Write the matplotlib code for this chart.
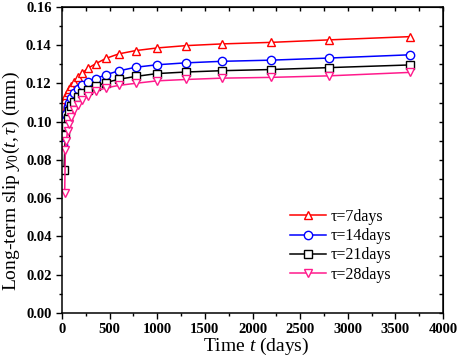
import matplotlib
matplotlib.use('Agg')
import matplotlib.pyplot as plt
from matplotlib.ticker import MultipleLocator

plt.rcParams['font.family'] = ['Liberation Serif', 'DejaVu Serif']
plt.rcParams['mathtext.fontset'] = 'custom'
plt.rcParams['mathtext.rm'] = 'Liberation Serif'
plt.rcParams['mathtext.it'] = 'Liberation Serif:italic'

# time grid (days) after the loading age
t_after = [35, 45, 58, 75, 97, 126, 163, 211, 274, 355, 460, 596, 773,
           1000, 1300, 1680, 2190, 2800, 3650]

t7 = [7] + t_after
y7 = [0.101, 0.1120, 0.1138, 0.1158, 0.1172, 0.1188, 0.1208, 0.1232, 0.1255,
      0.1280, 0.1304, 0.1331, 0.1355, 0.1372, 0.1386, 0.1398, 0.1407, 0.1415,
      0.1428, 0.1445]

t14 = [14] + t_after
y14 = [0.088, 0.1005, 0.1040, 0.1075, 0.1100, 0.1125, 0.1150, 0.1172, 0.1190,
       0.1207, 0.1225, 0.1246, 0.1266, 0.1285, 0.1298, 0.1308, 0.1316, 0.1322,
       0.1333, 0.1350]

t21 = [21] + t_after
y21 = [0.075, 0.093, 0.098, 0.102, 0.1055, 0.108, 0.1105, 0.1128, 0.1148,
       0.1168, 0.1185, 0.1205, 0.1222, 0.1237, 0.1252, 0.1260, 0.1267, 0.1273,
       0.1283, 0.1297]

t28 = [28] + t_after
y28 = [0.063, 0.085, 0.090, 0.095, 0.099, 0.1025, 0.106, 0.109, 0.1115,
       0.1135, 0.116, 0.1177, 0.119, 0.1201, 0.1214, 0.1221, 0.1228, 0.1232,
       0.1240, 0.1258]

labels = [r'τ=7days', r'τ=14days', r'τ=21days', r'τ=28days']

fig = plt.figure(figsize=(4.57, 3.61), dpi=100)
ax = fig.add_axes([0.1357, 0.133, 0.8337, 0.8476])

kw = dict(lw=1.1, ms=6, mfc='white', mew=1.0)
ax.plot(t7, y7, '-^', color='#ff0000', label=labels[0], **kw)
ax.plot(t14, y14, '-o', color='#0000ff', label=labels[1], **kw)
ax.plot(t21, y21, '-s', color='black', label=labels[2], ms=5.2, lw=1.1, mfc='white', mew=1.0)
ax.plot(t28, y28, '-v', color='#ff1a8c', label=labels[3], **kw)

ax.set_xlim(0, 4000)
ax.set_ylim(0, 0.16)
ax.xaxis.set_major_locator(MultipleLocator(500))
ax.xaxis.set_minor_locator(MultipleLocator(250))
ax.yaxis.set_major_locator(MultipleLocator(0.02))
ax.yaxis.set_minor_locator(MultipleLocator(0.01))
ax.yaxis.set_major_formatter(plt.FuncFormatter(lambda v, p: '%.2f' % v))
ax.tick_params(which='major', direction='out', length=4, width=1, labelsize=10.5)
ax.tick_params(which='minor', direction='out', length=2.5, width=1)
for lab in ax.get_xticklabels() + ax.get_yticklabels():
    lab.set_fontweight('bold')
for s in ax.spines.values():
    s.set_linewidth(1.1)

# top and right ticks pointing inward
top = ax.secondary_xaxis('top')
top.xaxis.set_major_locator(MultipleLocator(500))
top.xaxis.set_minor_locator(MultipleLocator(250))
top.tick_params(which='both', direction='in', labeltop=False, length=3, width=1)
right = ax.secondary_yaxis('right')
right.yaxis.set_major_locator(MultipleLocator(0.02))
right.yaxis.set_minor_locator(MultipleLocator(0.01))
right.tick_params(which='both', direction='in', labelright=False, length=3, width=1)

ax.set_xlabel(r'Time $t$ (days)', fontsize=14)
ax.set_ylabel(r'Long-term slip $y_0(t,\tau)$ (mm)', fontsize=14)
ax.xaxis.set_label_coords(0.509, -0.108)
ax.yaxis.set_label_coords(-0.134, 0.431)
ax.xaxis.label.set_va('center')
ax.yaxis.label.set_va('center')

ax.legend(loc='upper left', bbox_to_anchor=(0.598, 0.34), frameon=False,
          fontsize=11.5, handlelength=2.25, labelspacing=0.2, borderpad=0,
          borderaxespad=0, handletextpad=0.3)

fig.savefig('out.png', dpi=100)
